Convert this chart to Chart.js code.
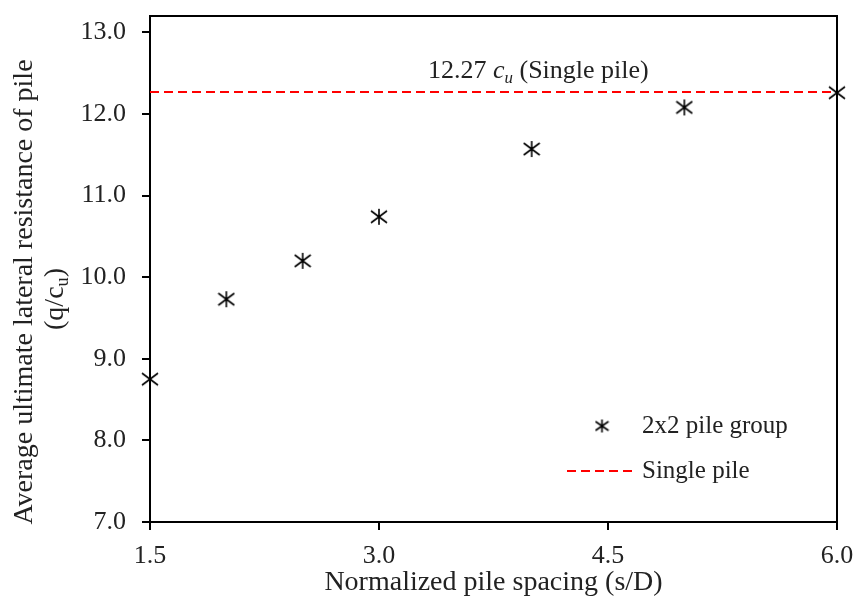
<!DOCTYPE html>
<html>
<head>
<meta charset="utf-8">
<script src="https://cdn.jsdelivr.net/npm/chart.js@4"></script>
<style>
  html, body { margin: 0; padding: 0; background: #fff; }
  #wrap { width: 856px; height: 600px; position: relative; }
</style>
</head>
<body>
<div id="wrap"><canvas id="chart"></canvas></div>
<script>
// --- datos ---
const spacing = [1.5, 2.0, 2.5, 3.0, 4.0, 5.0, 6.0];
const groupResistance = [8.75, 9.73, 10.20, 10.74, 11.57, 12.08, 12.26];
const singlePileX = [1.5, 6.0];
const singlePileY = [12.27, 12.27];
const xTicks = [1.5, 3.0, 4.5, 6.0];
const yTicks = [7, 8, 9, 10, 11, 12, 13];

const FONT = '"Liberation Serif", "Times New Roman", serif';

// marcador tipo asterisco (X + vertical)
function asterisk(size) {
  const c = document.createElement('canvas');
  c.width = size; c.height = size;
  const g = c.getContext('2d');
  g.strokeStyle = '#000'; g.lineWidth = 1.6; g.lineCap = 'butt';
  const m = 1, s = size - 1;
  g.beginPath();
  g.moveTo(m, m + 2); g.lineTo(s, s - 2);
  g.moveTo(s, m + 2); g.lineTo(m, s - 2);
  g.moveTo(size / 2, m); g.lineTo(size / 2, s);
  g.stroke();
  return c;
}
const starBig = asterisk(18);
const starSmall = asterisk(15);

// texto con subíndice: partes [{t, it, sub}]
function drawRich(ctx, parts, x, y, size) {
  let cx = x;
  parts.forEach((p) => {
    const fs = p.sub ? size * 0.65 : size;
    ctx.font = `${p.it ? 'italic ' : ''}${fs}px ${FONT}`;
    ctx.fillText(p.t, cx, p.sub ? y + size * 0.18 : y);
    cx += ctx.measureText(p.t).width;
  });
  return cx - x;
}
function richWidth(ctx, parts, size) {
  return parts.reduce((w, p) => {
    const fs = p.sub ? size * 0.65 : size;
    ctx.font = `${p.it ? 'italic ' : ''}${fs}px ${FONT}`;
    return w + ctx.measureText(p.t).width;
  }, 0);
}

const extras = {
  id: 'extras',
  afterDraw(chart) {
    const { ctx, chartArea: a } = chart;
    ctx.save();
    // marco superior y derecho
    ctx.strokeStyle = '#000'; ctx.lineWidth = 2;
    ctx.beginPath();
    ctx.moveTo(a.left, a.top); ctx.lineTo(a.right, a.top); ctx.lineTo(a.right, a.bottom);
    ctx.stroke();

    ctx.fillStyle = '#222';
    ctx.textBaseline = 'alphabetic';

    // título eje X
    ctx.font = `28px ${FONT}`;
    ctx.textAlign = 'center';
    ctx.fillText('Normalized pile spacing (s/D)', (a.left + a.right) / 2, 590);

    // título eje Y (dos líneas, rotado)
    ctx.save();
    ctx.translate(32, 292);
    ctx.rotate(-Math.PI / 2);
    ctx.font = `28px ${FONT}`;
    ctx.textAlign = 'center';
    ctx.fillText('Average ultimate lateral resistance of pile', 0, 0);
    ctx.restore();
    ctx.textAlign = 'left';
    const l2 = [{ t: '(q/c' }, { t: 'u', sub: true }, { t: ')' }];
    ctx.save();
    ctx.translate(63, 299);
    ctx.rotate(-Math.PI / 2);
    drawRich(ctx, l2, -richWidth(ctx, l2, 28) / 2, 0, 28);
    ctx.restore();

    // anotación de la línea
    const ann = [{ t: '12.27 ' }, { t: 'c', it: true }, { t: 'u', it: true, sub: true }, { t: ' (Single pile)' }];
    drawRich(ctx, ann, 428, 78, 26);

    // leyenda
    const ds = chart.data.datasets;
    ctx.drawImage(starSmall, 602 - 7.5, 426 - 7.5, 15, 15);
    ctx.font = `25px ${FONT}`;
    ctx.fillText(ds[0].label, 642, 433);
    ctx.strokeStyle = ds[1].borderColor; ctx.lineWidth = 2;
    ctx.setLineDash(ds[1].borderDash);
    ctx.beginPath(); ctx.moveTo(567, 471); ctx.lineTo(634, 471); ctx.stroke();
    ctx.setLineDash([]);
    ctx.fillText(ds[1].label, 642, 478);
    ctx.restore();
  },
};

new Chart(document.getElementById('chart'), {
  type: 'scatter',
  data: {
    datasets: [
      {
        label: '2x2 pile group',
        data: spacing.map((x, i) => ({ x, y: groupResistance[i] })),
        pointStyle: starBig, pointRadius: 9, clip: false,
        showLine: false,
      },
      {
        label: 'Single pile',
        data: singlePileX.map((x, i) => ({ x, y: singlePileY[i] })),
        showLine: true, borderColor: '#ff0000', borderWidth: 2,
        borderDash: [9, 5], pointRadius: 0,
      },
    ],
  },
  options: {
    responsive: true, maintainAspectRatio: false, animation: false,
    layout: { padding: { top: 16, right: 19, left: 0, bottom: 0 } },
    plugins: { legend: { display: false }, tooltip: { enabled: false } },
    scales: {
      x: {
        type: 'linear', min: 1.5, max: 6.0,
        afterBuildTicks: (s) => { s.ticks = xTicks.map((v) => ({ value: v })); },
        afterFit: (s) => { s.height = 78; s.paddingLeft = 0; s.paddingRight = 0; },
        grid: { drawOnChartArea: false, color: '#000', lineWidth: 2, tickLength: 8 },
        border: { color: '#000', width: 2 },
        ticks: { color: '#222', padding: 11, font: { family: FONT, size: 26 },
          maxRotation: 0, callback: (v) => Number(v).toFixed(1) },
      },
      y: {
        type: 'linear', min: 7, max: 13.2,
        afterBuildTicks: (s) => { s.ticks = yTicks.map((v) => ({ value: v })); },
        afterFit: (s) => { s.width = 150; s.paddingTop = 0; s.paddingBottom = 0; },
        grid: { drawOnChartArea: false, color: '#000', lineWidth: 2, tickLength: 8 },
        border: { color: '#000', width: 2 },
        ticks: { color: '#222', padding: 16, font: { family: FONT, size: 26 },
          callback: (v) => Number(v).toFixed(1) },
      },
    },
  },
  plugins: [extras],
});
</script>
</body>
</html>
